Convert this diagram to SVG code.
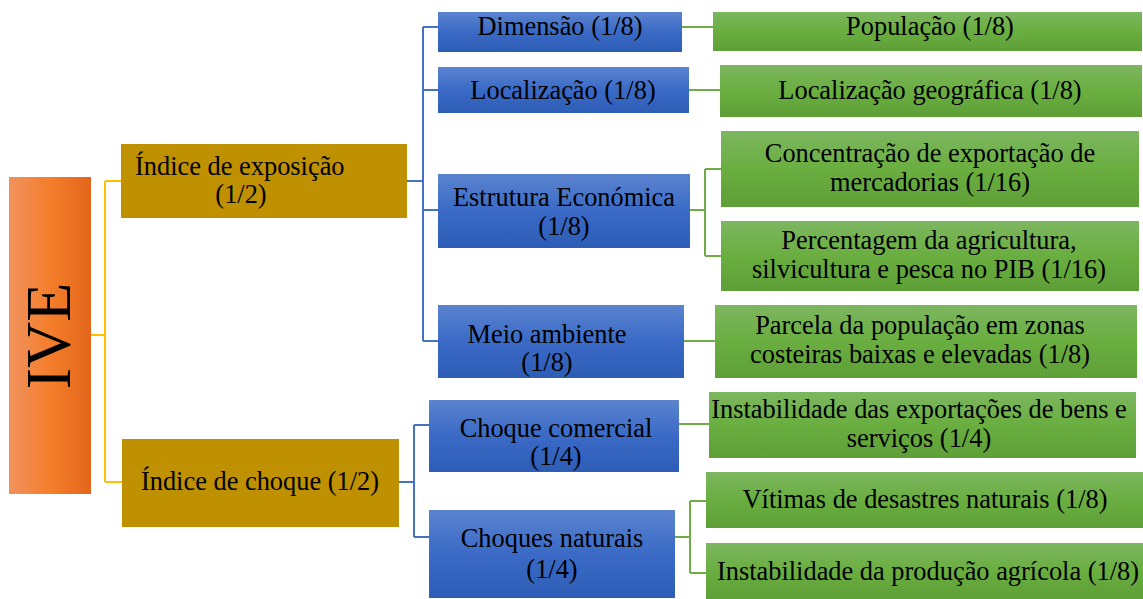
<svg xmlns="http://www.w3.org/2000/svg" width="1143" height="599" viewBox="0 0 1143 599">
<defs>
<linearGradient id="gOrange" x1="0" y1="0" x2="1" y2="0">
<stop offset="0" stop-color="#F0925E"/><stop offset="0.5" stop-color="#F47E2B"/><stop offset="1" stop-color="#E3661B"/>
</linearGradient>
<linearGradient id="gBlue" x1="0" y1="0" x2="0" y2="1">
<stop offset="0" stop-color="#5B84CF"/><stop offset="0.5" stop-color="#3A6AC6"/><stop offset="1" stop-color="#2E5DB6"/>
</linearGradient>
<linearGradient id="gGreen" x1="0" y1="0" x2="0" y2="1">
<stop offset="0" stop-color="#7DB660"/><stop offset="0.5" stop-color="#6AAE40"/><stop offset="1" stop-color="#5E9F37"/>
</linearGradient>
</defs>
<style>
text{font-family:"Liberation Serif","Times New Roman",serif;font-size:26.4px;fill:#000;text-anchor:middle}
.blue{fill:url(#gBlue)}
.green{fill:url(#gGreen)}
.gold{fill:#BF9000}
.cy{stroke:#FFC000;stroke-width:2;fill:none}
.cb{stroke:#4472C4;stroke-width:2;fill:none}
.cg{stroke:#70AD47;stroke-width:2;fill:none}
</style>
<g id="connectors">
<path class="cy" d="M91 335 H105 M105 181 V482 M105 181 H121 M105 482 H122"/>
<path class="cb" d="M407 181 H423 M423 27 V341 M423 27 H438 M423 90 H438 M423 210 H438 M423 341 H438"/>
<path class="cb" d="M399 482 H414 M414 425 V537 M414 425 H429 M414 537 H429"/>
<path class="cg" d="M682 27 H713 M689 90 H720 M690 210 H705 M705 169 V256 M705 169 H721 M705 256 H721 M684 341 H715"/>
<path class="cg" d="M679 424 H709 M675 537 H690 M690 501 V573 M690 501 H706 M690 573 H706"/>
</g>
<g id="ive">
<rect x="9" y="177" width="82" height="317" fill="url(#gOrange)"/>
<text transform="translate(70,336) rotate(-90)" style="font-size:64px">IVE</text>
</g>
<g id="exposicao">
<rect class="gold" x="121" y="144" width="286" height="74"/>
<text x="135" y="175" style="text-anchor:start">Índice de exposição</text>
<text x="241" y="203">(1/2)</text>
</g>
<g id="choque">
<rect class="gold" x="122" y="439" width="277" height="88"/>
<text x="260" y="490">Índice de choque (1/2)</text>
</g>
<g id="dimensao">
<rect class="blue" x="438" y="12" width="244" height="40"/>
<text x="560" y="35">Dimensão (1/8)</text>
</g>
<g id="localizacao">
<rect class="blue" x="438" y="67" width="251" height="46"/>
<text x="563" y="99">Localização (1/8)</text>
</g>
<g id="estrutura">
<rect class="blue" x="438" y="174" width="252" height="74"/>
<text x="564" y="206">Estrutura Económica</text>
<text x="564" y="235">(1/8)</text>
</g>
<g id="meio">
<rect class="blue" x="438" y="305" width="246" height="73"/>
<text x="547" y="343">Meio ambiente</text>
<text x="547" y="371">(1/8)</text>
</g>
<g id="comercial">
<rect class="blue" x="429" y="400" width="250" height="72"/>
<text x="556" y="437">Choque comercial</text>
<text x="556" y="465">(1/4)</text>
</g>
<g id="naturais">
<rect class="blue" x="429" y="510" width="246" height="88"/>
<text x="552" y="547">Choques naturais</text>
<text x="552" y="578">(1/4)</text>
</g>
<g id="populacao">
<rect class="green" x="713" y="12" width="429" height="39"/>
<text x="930" y="35">População (1/8)</text>
</g>
<g id="geografica">
<rect class="green" x="720" y="65" width="422" height="52"/>
<text x="930" y="99">Localização geográfica (1/8)</text>
</g>
<g id="concentracao">
<rect class="green" x="721" y="131" width="418" height="76"/>
<text x="930" y="162">Concentração de exportação de</text>
<text x="930" y="191">mercadorias (1/16)</text>
</g>
<g id="percentagem">
<rect class="green" x="721" y="221" width="418" height="70"/>
<text x="929" y="249">Percentagem da agricultura,</text>
<text x="929" y="278">silvicultura e pesca no PIB (1/16)</text>
</g>
<g id="parcela">
<rect class="green" x="715" y="305" width="422" height="73"/>
<text x="920" y="334">Parcela da população em zonas</text>
<text x="920" y="363">costeiras baixas e elevadas (1/8)</text>
</g>
<g id="exportacoes">
<rect class="green" x="709" y="392" width="427" height="66"/>
<text x="919" y="418">Instabilidade das exportações de bens e</text>
<text x="919" y="447">serviços (1/4)</text>
</g>
<g id="vitimas">
<rect class="green" x="706" y="472" width="437" height="56"/>
<text x="925" y="508">Vítimas de desastres naturais (1/8)</text>
</g>
<g id="producao">
<rect class="green" x="706" y="543" width="437" height="56"/>
<text x="928" y="580">Instabilidade da produção agrícola (1/8)</text>
</g>
</svg>
